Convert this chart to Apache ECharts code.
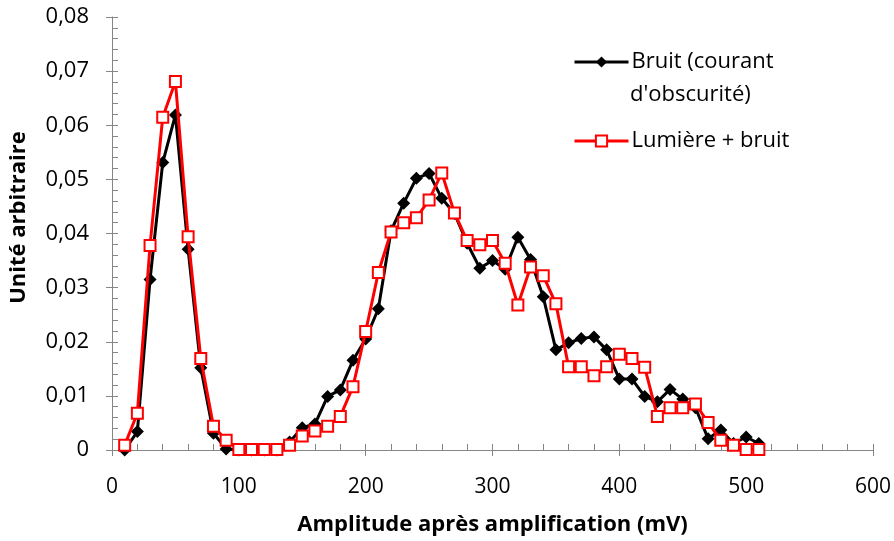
<!DOCTYPE html>
<html>
<head>
<meta charset="utf-8">
<script src="https://cdn.jsdelivr.net/npm/echarts@6/dist/echarts.min.js"></script>
<style>
html,body{margin:0;padding:0;background:#fff;}
#chart{width:894px;height:541px;}
</style>
</head>
<body>
<div id="chart"></div>
<script>
const amplitudes = [10,20,30,40,50,60,70,80,90,100,110,120,130,140,150,160,170,180,190,200,
  210,220,230,240,250,260,270,280,290,300,310,320,330,340,350,360,370,380,390,400,
  410,420,430,440,450,460,470,480,490,500,510];
const bruit = [0,0.0034,0.0315,0.0531,0.0619,0.0371,0.0152,0.0031,0.0002,0,
  0,0,0,0.0015,0.0041,0.0048,0.0099,0.0111,0.0166,0.0205,
  0.0261,0.0405,0.0456,0.0502,0.0511,0.0465,0.0437,0.0382,0.0336,0.0350,
  0.0334,0.0393,0.0352,0.0283,0.0185,0.0198,0.0206,0.0209,0.0185,0.0131,
  0.0131,0.0099,0.0089,0.0112,0.0094,0.0078,0.0021,0.0037,0.0012,0.0024,0.0012];
const lumiere = [0.0009,0.0068,0.0378,0.0615,0.0681,0.0394,0.0169,0.0044,0.0018,0.0001,
  0.0001,0.0001,0.0001,0.0009,0.0026,0.0035,0.0044,0.0062,0.0117,0.0219,
  0.0328,0.0403,0.0420,0.0429,0.0462,0.0512,0.0438,0.0387,0.0379,0.0387,
  0.0345,0.0268,0.0338,0.0322,0.0270,0.0154,0.0154,0.0137,0.0154,0.0177,
  0.0169,0.0153,0.0062,0.0078,0.0078,0.0085,0.0051,0.0018,0.0009,0.0001,0.0001];
const xTicks = [0,100,200,300,400,500,600];
const yTicks = ['0','0,01','0,02','0,03','0,04','0,05','0,06','0,07','0,08'];
const nameBruit = "Bruit (courant d'obscurité)";
const nameLum = 'Lumière + bruit';

const FONT = '"Open Sans", "Liberation Sans", sans-serif';
const AXIS_COLOR = '#868686';
const chart = echarts.init(document.getElementById('chart'), null, {renderer:'canvas'});

const pairs = (arr) => amplitudes.map((x, i) => [x, arr[i]]);

chart.setOption({
  animation: false,
  backgroundColor: '#ffffff',
  grid: {left: 111, right: 20, top: 17, bottom: 91, containLabel: false},
  xAxis: [{
    type: 'value', min: 0, max: 600, interval: 100,
    name: 'Amplitude après amplification (mV)',
    nameLocation: 'middle', nameGap: 64,
    nameTextStyle: {fontFamily: FONT, fontSize: 22, fontWeight: 'bold', color: '#000'},
    axisLine: {show: true, lineStyle: {color: AXIS_COLOR, width: 1}},
    axisTick: {show: true, inside: false, length: 6, lineStyle: {color: AXIS_COLOR}},
    axisLabel: {fontFamily: FONT, fontSize: 21, color: '#000', margin: 27,
      formatter: (v) => String(xTicks[Math.round(v / 100)])},
    splitLine: {show: false}
  }, {
    type: 'value', min: 0, max: 600, interval: 20, position: 'bottom',
    axisLine: {show: false},
    axisTick: {show: true, inside: true, length: 6, lineStyle: {color: AXIS_COLOR}},
    axisLabel: {show: false},
    splitLine: {show: false}
  }],
  yAxis: [{
    type: 'value', min: 0, max: 0.08, interval: 0.01,
    name: 'Unité arbitraire',
    nameLocation: 'middle', nameGap: 82, nameRotate: 90,
    nameTextStyle: {fontFamily: FONT, fontSize: 22, fontWeight: 'bold', color: '#000',
      padding: [0, 0, 0, 32]},
    axisLine: {show: true, lineStyle: {color: AXIS_COLOR, width: 1}},
    axisTick: {show: true, inside: false, length: 6, lineStyle: {color: AXIS_COLOR}},
    axisLabel: {fontFamily: FONT, fontSize: 22, color: '#000', margin: 23,
      formatter: (v) => yTicks[Math.round(v * 100)]},
    splitLine: {show: false}
  }, {
    type: 'value', min: 0, max: 0.08, interval: 0.002, position: 'left',
    axisLine: {show: false},
    axisTick: {show: true, inside: true, length: 6, lineStyle: {color: AXIS_COLOR}},
    axisLabel: {show: false},
    splitLine: {show: false}
  }],
  legend: [{
    data: [nameBruit], left: 573, top: 51, padding: 0,
    itemWidth: 54, itemHeight: 14, itemGap: 0,
    lineStyle: {width: 3},
    formatter: () => 'Bruit (courant',
    textStyle: {fontFamily: FONT, fontSize: 22, color: '#000', padding: [0,0,0,-2]}
  }, {
    data: [nameLum], left: 573, top: 130, padding: 0,
    itemWidth: 54, itemHeight: 14, itemGap: 0,
    lineStyle: {width: 3},
    textStyle: {fontFamily: FONT, fontSize: 22, color: '#000', padding: [0,0,0,-2]}
  }],
  graphic: [{
    type: 'text', left: 630, top: 84,
    style: {text: "d'obscurité)", font: '22px ' + FONT, fill: '#000'}
  }],
  series: [{
    name: nameBruit, type: 'line', xAxisIndex: 0, yAxisIndex: 0,
    data: pairs(bruit),
    symbol: 'diamond', symbolSize: 13,
    lineStyle: {color: '#000', width: 3},
    itemStyle: {color: '#000', borderColor: '#000', borderWidth: 0},
    z: 2
  }, {
    name: nameLum, type: 'line', xAxisIndex: 0, yAxisIndex: 0,
    data: pairs(lumiere),
    symbol: 'rect', symbolSize: 11,
    lineStyle: {color: '#ff0000', width: 3},
    itemStyle: {color: '#ffffff', borderColor: '#ff0000', borderWidth: 2},
    z: 3
  }]
});
</script>
</body>
</html>
